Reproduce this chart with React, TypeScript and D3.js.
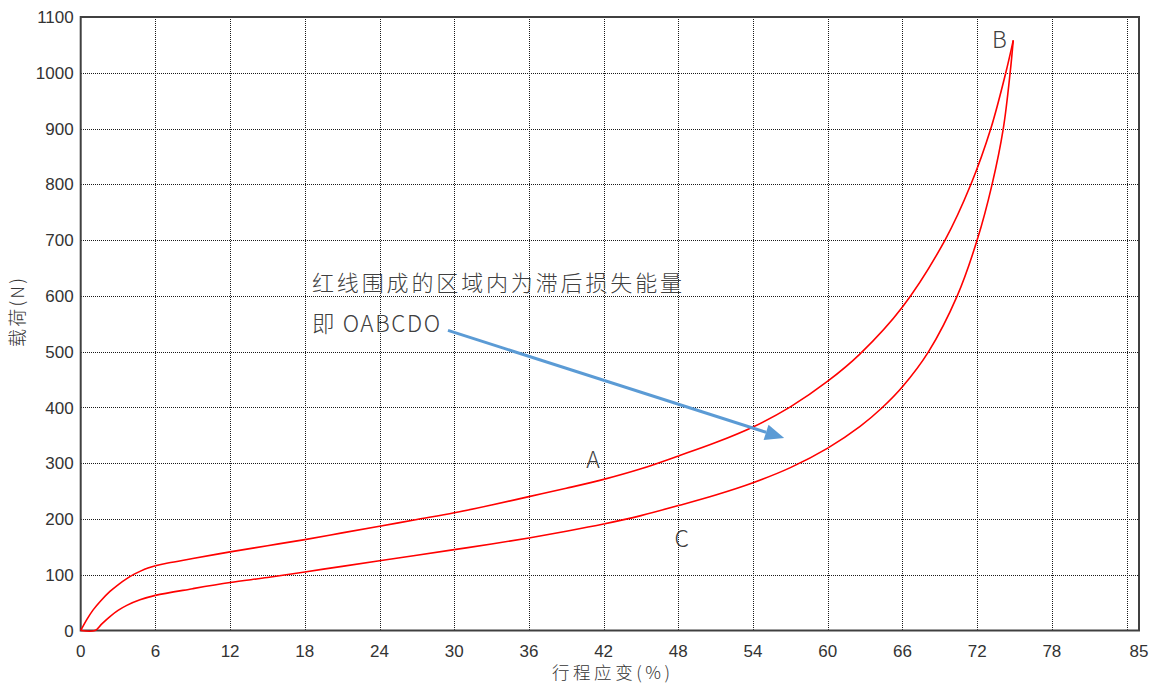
import React from "react";
import * as d3 from "d3";

const loadX = [0, 0.5, 1.0, 1.6, 2.35, 3.0, 3.7, 4.3, 4.76, 5.4, 6, 7, 9, 12, 15, 18, 21, 24, 27, 30, 33, 36, 39, 42, 45, 48, 51, 54, 57, 60, 62.6, 66, 69.42, 71.5, 73.1, 74.3, 74.9];
const loadY = [0, 20, 37, 53, 70, 82, 93, 101, 106, 112, 116, 121, 129, 141, 152, 163, 175, 187, 199, 211, 225, 240, 255, 271, 290, 313, 337, 365, 401, 447, 496, 580, 700, 800, 900, 1000, 1058];

const unloadX = [0, 1.15, 1.7, 2.35, 3.0, 3.7, 4.76, 6, 9, 12, 15, 18, 21, 24, 27, 30, 33, 36, 39, 42, 45, 48, 51, 54, 57, 60, 62.6, 64.3, 66, 68.1, 70.4, 72, 73.2, 74.1, 74.65, 74.9];
const unloadY = [0, 0, 12, 25, 36, 45, 55, 63, 75, 86, 95, 105, 115, 125, 135, 145, 155, 166, 178, 191, 206, 224, 243, 265, 292, 327, 366, 398, 437, 500, 600, 700, 800, 900, 1000, 1058];

const xGridValues = [6, 12, 18, 24, 30, 36, 42, 48, 54, 60, 66, 72, 78, 84];
const xLabelValues = [0, 6, 12, 18, 24, 30, 36, 42, 48, 54, 60, 66, 72, 78, 85];
const yTickValues = [0, 100, 200, 300, 400, 500, 600, 700, 800, 900, 1000, 1100];

const xTitle = "行程应变(%)";
const yTitle = "载荷(N)";
const note1 = "红线围成的区域内为滞后损失能量";
const note2 = "即 OABCDO";
const pointLabels = [
  { name: "A", x: 40.6, y: 291 },
  { name: "B", x: 73.2, y: 1045 },
  { name: "C", x: 47.7, y: 150 },
];

const W = 1152, H = 689;
const L = 80.7, R = 1139, T = 17, B = 630.5;

export default function App() {
  const x = d3.scaleLinear().domain([0, 85]).range([L, R]);
  const y = d3.scaleLinear().domain([0, 1100]).range([B, T]);
  const line = d3.line<[number, number]>().x(d => x(d[0])).y(d => Math.min(B, y(d[1]))).curve(d3.curveCatmullRom.alpha(0.5));
  const loadPts = loadX.map((v, i) => [v, loadY[i]] as [number, number]);
  const unloadPts = unloadX.map((v, i) => [v, unloadY[i]] as [number, number]);
  const gridColor = "#1a1a1a";
  const txt = "#333";
  const cjk = "'Noto Sans CJK SC', 'Noto Sans', sans-serif";
  const a0: [number, number] = [29.5, 538];
  const a1: [number, number] = [56.5, 345];
  const ax0 = x(a0[0]), ay0 = y(a0[1]), ax1 = x(a1[0]), ay1 = y(a1[1]);
  const ang = Math.atan2(ay1 - ay0, ax1 - ax0);
  const hl = 19, hw = 8;
  const bx = ax1 - hl * Math.cos(ang), by = ay1 - hl * Math.sin(ang);
  const head = `${ax1},${ay1} ${bx + hw * Math.sin(ang)},${by - hw * Math.cos(ang)} ${bx - hw * Math.sin(ang)},${by + hw * Math.cos(ang)}`;
  const snap = (v: number) => Math.round(v) + 0.5;
  return (
    <svg width={W} height={H} style={{ position: "absolute", left: 0, top: 0, background: "#fff" }}>
      <rect x={0} y={0} width={W} height={H} fill="#fff" />
      {xGridValues.map(v => (
        <line key={"gx" + v} x1={snap(x(v))} x2={snap(x(v))} y1={T} y2={B} stroke={gridColor} strokeWidth={1} strokeDasharray="1 1" shapeRendering="crispEdges" />
      ))}
      {yTickValues.filter(v => v > 0 && v < 1100).map(v => (
        <line key={"gy" + v} x1={L} x2={R} y1={snap(y(v))} y2={snap(y(v))} stroke={gridColor} strokeWidth={1} strokeDasharray="1 1" shapeRendering="crispEdges" />
      ))}
      <rect x={L} y={T} width={R - L} height={B - T} fill="none" stroke="#404040" strokeWidth={2} />
      {yTickValues.map(v => (
        <text key={"ty" + v} x={L - 7} y={y(v)} dy="0.36em" textAnchor="end" fontFamily="'Liberation Sans', Arial, sans-serif" fontSize={17} fill={txt}>{v}</text>
      ))}
      {xLabelValues.map(v => (
        <text key={"tx" + v} x={x(v)} y={657} textAnchor="middle" fontFamily="'Liberation Sans', Arial, sans-serif" fontSize={17} fill={txt}>{v}</text>
      ))}
      <text x={552} y={679} fontFamily={cjk} fontWeight={300} fontSize={17.5} fill={txt} textLength={118} lengthAdjust="spacing">{xTitle}</text>
      <text transform={`translate(24,347) rotate(-90)`} fontFamily={cjk} fontWeight={300} fontSize={18} fill={txt} textLength={69} lengthAdjust="spacing">{yTitle}</text>
      <path d={line(unloadPts) || ""} fill="none" stroke="#ff0000" strokeWidth={1.6} />
      <path d={line(loadPts) || ""} fill="none" stroke="#ff0000" strokeWidth={1.6} />
      <line x1={ax0} y1={ay0} x2={bx} y2={by} stroke="#5b9bd5" strokeWidth={3} />
      <polygon points={head} fill="#5b9bd5" />
      <text x={312} y={291} fontFamily={cjk} fontWeight={300} fontSize={22} fill="#404040" textLength={370} lengthAdjust="spacing">{note1}</text>
      <text x={312} y={332} fontFamily={cjk} fontWeight={300} fontSize={22.5} fill="#404040" textLength={128} lengthAdjust="spacing">{note2}</text>
      {pointLabels.map(p => (
        <text key={p.name} x={x(p.x)} y={y(p.y)} fontFamily={cjk} fontWeight={300} fontSize={23} fill="#404040">{p.name}</text>
      ))}
    </svg>
  );
}
